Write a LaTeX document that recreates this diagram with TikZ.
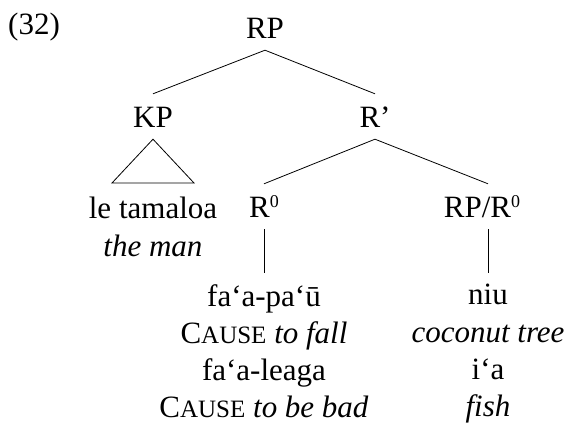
\documentclass[tikz,border=0pt]{standalone}
\usepackage{fontspec}
\setmainfont{Liberation Serif}
\newcommand{\mycause}{C{\fontsize{25}{25}\selectfont AUSE}}
\newcommand{\mysupzero}{\raisebox{10pt}{\fontsize{18}{18}\selectfont 0}}
\begin{document}
\begin{tikzpicture}[x=1pt,y=-1pt,
  lab/.style={font=\fontsize{31}{37.3}\selectfont, inner xsep=0pt, inner ysep=11pt,
    text height=23pt, text depth=0pt, anchor=base},
  leaf/.style={font=\fontsize{31}{37.3}\selectfont, inner xsep=0pt, inner ysep=11pt,
    align=center, anchor=north},
  edge/.style={line width=0.8pt}]
\useasboundingbox (0,0) rectangle (568,425);
\node[lab, anchor=base west] (ex) at (8,35) {(32)};
\node[lab] (RP) at (265,39) {RP};
\node[lab] (KP) at (153,128) {KP};
\node[lab] (Rbar) at (375,128) {R’};
\node[lab] (R0) at (264,218) {R\mysupzero};
\node[lab] (RPR) at (482,218) {RP/R\mysupzero};
\node[leaf] (tam) at (153,186) {le tamaloa\\ \textit{the man}};
\node[leaf] (fa) at (264,273) {fa‘a-pa‘ū\\ \mycause{} \textit{to fall}\\ fa‘a-leaga\\ \mycause{} \textit{to be bad}};
\node[leaf] (niu) at (488,273) {niu\\ \textit{coconut tree}\\ i‘a\\ \textit{fish}};
\coordinate (tl) at (112,183);
\coordinate (tr) at (194,183);
\draw[edge] (RP.south) -- (KP.north);
\draw[edge] (RP.south) -- (Rbar.north);
\draw[edge] (KP.south) -- (tl) -- (tr) -- cycle;
\draw[edge] (Rbar.south) -- (R0.north);
\draw[edge] (Rbar.south) -- (RPR.north -| niu.north);
\draw[edge] (R0.south) -- (fa.north);
\draw[edge] (RPR.south -| niu.north) -- (niu.north);
\end{tikzpicture}
\end{document}
